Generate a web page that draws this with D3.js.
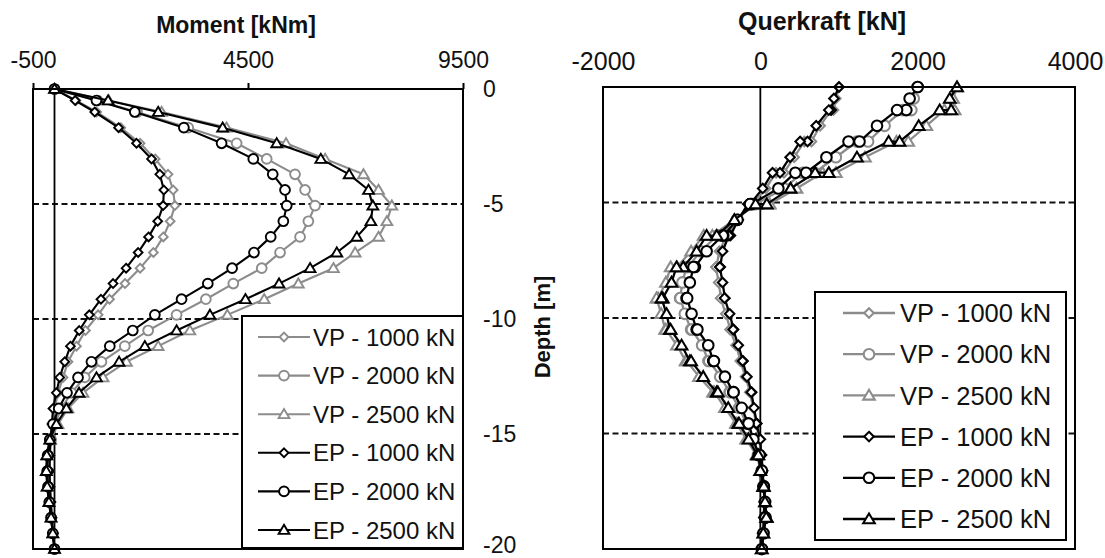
<!DOCTYPE html>
<html>
<head>
<meta charset="utf-8">
<script src="https://cdn.jsdelivr.net/npm/d3@7"></script>
<style>
  body { margin: 0; background: #fff; }
  svg { display: block; font-family: "Liberation Sans", Arial, Helvetica, sans-serif; }
</style>
</head>
<body>
<svg id="chart" width="1105" height="558"></svg>
<script>
// ---- Depth of the pile nodes [m] ----
const nodeDepth = [0, -0.5, -1, -1.68, -2.36, -3.04, -3.71, -4.39, -5.07, -5.75, -6.43, -7.11,
  -7.79, -8.46, -9.14, -9.82, -10.5, -11.18, -11.86, -12.54, -13.21, -13.89, -14.57, -15.25,
  -15.93, -16.61, -17.29, -17.96, -18.64, -19.32, -20];

// ---- Bending moment [kNm] at each node ----
const momentVP1000 = [0, 500, 980, 1540, 1990, 2340, 2640, 2760, 2800, 2690, 2530, 2300, 1990, 1640,
  1280, 1014, 720, 510, 314, 198, 82, 5, -50, -90, -110, -115, -105, -85, -60, -30, 0];
const momentVP2000 = [0, 1000, 1920, 3110, 4236, 4935, 5594, 5827, 6060, 5904, 5711, 5245, 4819, 4158,
  3520, 2839, 2178, 1635, 1092, 703, 393, 160, 5, -80, -140, -160, -150, -120, -80, -40, 0];
const momentVP2500 = [0, 1260, 2490, 4000, 5385, 6293, 7185, 7535, 7846, 7730, 7535, 6992, 6487, 5671,
  4876, 4020, 3149, 2411, 1674, 1130, 664, 314, 82, -90, -170, -190, -170, -130, -80, -40, 0];
const momentEP1000 = [0, 480, 936, 1490, 1907, 2256, 2450, 2543, 2527, 2400, 2187, 1945, 1665, 1362,
  1080, 810, 575, 370, 238, 121, 44, -35, -60, -90, -110, -115, -105, -85, -60, -30, 0];
const momentEP2000 = [0, 975, 1868, 3009, 3886, 4623, 5075, 5361, 5401, 5322, 5028, 4639, 4130, 3565,
  2955, 2334, 1820, 1286, 859, 547, 291, 98, -35, -110, -160, -170, -150, -120, -80, -40, 0];
const momentEP2500 = [0, 1247, 2411, 3910, 5168, 6193, 6852, 7302, 7404, 7357, 7031, 6566, 5944, 5222,
  4440, 3615, 2839, 2101, 1502, 976, 571, 277, 44, -110, -180, -190, -170, -130, -80, -40, 0];

// ---- Shear force [kN]: element end values, two values at every second node ----
const shearDepth = [0, -0.5, -1, -1, -1.68, -2.36, -2.36, -3.04, -3.71, -3.71, -4.39, -5.07, -5.07,
  -5.75, -6.43, -6.43, -7.11, -7.79, -7.79, -8.46, -9.14, -9.14, -9.82, -10.5, -10.5, -11.18,
  -11.86, -11.86, -12.54, -13.21, -13.21, -13.89, -14.57, -14.57, -15.25, -15.93, -15.93, -16.61,
  -17.29, -17.29, -17.96, -18.64, -18.64, -19.32, -20];
const shearVP1000 = [1000, 960, 930, 900, 760, 650, 560, 430, 300, 200, 70, -110, -140, -290, -410, -430,
  -520, -560, -565, -530, -500, -505, -440, -380, -385, -310, -250, -255, -190, -130, -135, -90, -55,
  -60, -10, 5, 10, 25, 40, 45, 50, 45, 50, 30, 20];
const shearVP2000 = [2000, 1950, 1920, 1810, 1580, 1370, 1230, 960, 690, 540, 300, -60, -90, -300, -530,
  -545, -760, -920, -940, -990, -1020, -1015, -960, -880, -870, -740, -660, -650, -510, -390, -385,
  -270, -175, -170, -100, -30, -20, 15, 40, 45, 60, 60, 65, 40, 20];
const shearVP2500 = [2500, 2450, 2470, 2340, 2110, 1880, 1730, 1330, 960, 790, 460, 120, -40, -330, -610,
  -720, -880, -1060, -1140, -1200, -1300, -1320, -1260, -1210, -1200, -1060, -950, -935, -780, -600,
  -585, -450, -310, -300, -180, -50, -35, -5, 35, 40, 60, 80, 75, 40, 18];
const shearEP1000 = [1000, 935, 900, 870, 710, 600, 506, 378, 250, 155, 30, -130, -160, -280, -380, -400,
  -480, -510, -515, -480, -450, -455, -390, -340, -345, -280, -220, -225, -170, -110, -115, -80, -45,
  -50, 0, 10, 15, 30, 40, 45, 50, 45, 50, 30, 20];
const shearEP2000 = [2000, 1898, 1856, 1738, 1483, 1261, 1121, 840, 582, 445, 229, -110, -131, -290, -471,
  -479, -683, -832, -850, -896, -938, -930, -874, -810, -800, -662, -599, -590, -450, -344, -340,
  -237, -153, -150, -89, -20, -10, 20, 40, 45, 60, 60, 65, 40, 20];
const shearEP2500 = [2500, 2408, 2426, 2280, 2013, 1770, 1631, 1228, 870, 697, 385, 82, -60, -330, -555,
  -683, -810, -980, -1065, -1129, -1240, -1256, -1192, -1150, -1140, -1001, -896, -880, -726, -555,
  -540, -408, -280, -270, -150, -40, -25, 0, 38, 45, 60, 82, 75, 38, 18];

// ---- Series labels and axis ticks ----
const seriesNames = ["VP - 1000 kN", "VP - 2000 kN", "VP - 2500 kN", "EP - 1000 kN", "EP - 2000 kN", "EP - 2500 kN"];
const seriesShapes = ["diamond", "circle", "triangle", "diamond", "circle", "triangle"];
const seriesColors = ["#8c8c8c", "#8c8c8c", "#8c8c8c", "#000000", "#000000", "#000000"];
const momentSeries = [momentVP1000, momentVP2000, momentVP2500, momentEP1000, momentEP2000, momentEP2500];
const shearSeries = [shearVP1000, shearVP2000, shearVP2500, shearEP1000, shearEP2000, shearEP2500];
const momentTicks = [-500, 4500, 9500];
const shearTicks = [-2000, 0, 2000, 4000];
const depthTicks = [0, -5, -10, -15, -20];
const guideDepths = [-5, -10, -15];

// plain hyphen-minus for negative numbers
const plainNumber = d => String(d);

const svg = d3.select("#chart");

// Marker outline for a given shape and half-size
function markerPath(shape, s) {
  if (shape === "diamond") return `M0,${-s}L${s},0L0,${s}L${-s},0Z`;
  if (shape === "triangle") return `M0,${-s * 1.05}L${s * 1.1},${s * 0.8}L${-s * 1.1},${s * 0.8}Z`;
  return d3.symbol(d3.symbolCircle, Math.PI * s * s)();
}
const markerSize = shape => (shape === "diamond" ? 4.4 : 4.9);

function drawPanel(cfg) {
  const { x, y, series, depths, ticks, title, titleX, titleY, fontSize, scaleK, legend, tickSize, tickPad } = cfg;
  const g = svg.append("g");
  const [x0, x1] = x.range();
  const [y0, y1] = y.range();

  // dashed depth guides
  g.selectAll("line.guide").data(guideDepths).join("line")
    .attr("x1", x0).attr("x2", x1)
    .attr("y1", d => y(d)).attr("y2", d => y(d))
    .attr("stroke", "#111").attr("stroke-width", 1.8).attr("stroke-dasharray", "6,3.5");

  // zero line
  g.append("line")
    .attr("x1", x(0)).attr("x2", x(0)).attr("y1", y0).attr("y2", y1)
    .attr("stroke", "#000").attr("stroke-width", 1.8);

  // series lines with markers
  const line = d3.line().x(d => x(d[0])).y(d => y(d[1]));
  series.forEach((vals, i) => {
    const pts = vals.map((v, j) => [v, depths[j]]);
    const sg = g.append("g");
    sg.append("path").datum(pts)
      .attr("d", line).attr("fill", "none")
      .attr("stroke", seriesColors[i]).attr("stroke-width", 2.1 * scaleK)
      .attr("stroke-linejoin", "round");
    sg.selectAll("path.m").data(pts).join("path")
      .attr("class", "m")
      .attr("transform", d => `translate(${x(d[0])},${y(d[1])})`)
      .attr("d", markerPath(seriesShapes[i], markerSize(seriesShapes[i]) * scaleK))
      .attr("fill", "#fff").attr("stroke", seriesColors[i]).attr("stroke-width", 1.9 * scaleK);
  });

  // frame
  g.append("rect")
    .attr("x", x0).attr("y", y0).attr("width", x1 - x0).attr("height", y1 - y0)
    .attr("fill", "none").attr("stroke", "#000").attr("stroke-width", 2);

  // top value axis
  const ax = g.append("g").attr("transform", `translate(0,${y0})`)
    .call(d3.axisTop(x).tickValues(ticks).tickFormat(plainNumber)
      .tickSize(tickSize).tickPadding(tickPad));
  ax.select(".domain").remove();
  ax.selectAll(".tick line").attr("stroke", "#000").attr("stroke-width", 2);
  ax.selectAll(".tick text").attr("fill", "#111").style("font-size", fontSize + "px")
    .style("font-family", "'Liberation Sans', Arial, sans-serif");

  // panel title
  g.append("text").attr("x", titleX).attr("y", titleY).attr("text-anchor", "middle")
    .attr("fill", "#111").style("font-size", fontSize + "px").style("font-weight", "bold")
    .text(title);

  // legend
  const lg = g.append("g");
  lg.append("rect")
    .attr("x", legend.x0).attr("y", legend.y0)
    .attr("width", legend.x1 - legend.x0).attr("height", legend.y1 - legend.y0)
    .attr("fill", "#fff").attr("stroke", "#000").attr("stroke-width", 2);
  seriesNames.forEach((name, i) => {
    const cy = legend.rowY0 + i * legend.rowStep;
    lg.append("line").attr("x1", legend.lineX0).attr("x2", legend.lineX1)
      .attr("y1", cy).attr("y2", cy)
      .attr("stroke", seriesColors[i]).attr("stroke-width", 2.1 * scaleK);
    lg.append("path")
      .attr("transform", `translate(${(legend.lineX0 + legend.lineX1) / 2},${cy})`)
      .attr("d", markerPath(seriesShapes[i], markerSize(seriesShapes[i]) * scaleK))
      .attr("fill", "#fff").attr("stroke", seriesColors[i]).attr("stroke-width", 1.9 * scaleK);
    lg.append("text").attr("x", legend.textX).attr("y", cy).attr("dy", "0.36em")
      .attr("fill", "#111").style("font-size", legend.fontSize + "px").text(name);
  });
  return g;
}

// ---- Left panel: bending moment ----
const momentX = d3.scaleLinear().domain([-500, 9500]).range([33, 463]);
const momentY = d3.scaleLinear().domain([0, -20]).range([89, 549]);
drawPanel({
  x: momentX, y: momentY, series: momentSeries, depths: nodeDepth, ticks: momentTicks,
  title: "Moment [kNm]", titleX: 236, titleY: 33, fontSize: 23, scaleK: 1,
  tickSize: 6, tickPad: 15,
  legend: { x0: 242, y0: 316, x1: 463, y1: 548, rowY0: 337, rowStep: 38.6,
            lineX0: 258, lineX1: 310, textX: 313, fontSize: 24 }
});

// depth axis between the panels
const depthAxis = svg.append("g").attr("transform", `translate(463,0)`)
  .call(d3.axisRight(momentY).tickValues(depthTicks).tickFormat(plainNumber).tickSize(0).tickPadding(20));
depthAxis.select(".domain").remove();
depthAxis.selectAll(".tick text").attr("fill", "#111").style("font-size", "23px")
  .style("font-family", "'Liberation Sans', Arial, sans-serif");
// keep the lowest label inside the drawing area
depthAxis.selectAll(".tick text").filter(d => d === -20).attr("dy", "0.16em");
svg.append("text")
  .attr("transform", "translate(542,327) rotate(-90)")
  .attr("text-anchor", "middle").attr("dy", "0.35em")
  .attr("fill", "#111").style("font-size", "22px").style("font-weight", "bold")
  .text("Depth [m]");

// ---- Right panel: shear force ----
const shearX = d3.scaleLinear().domain([-2000, 4000]).range([603, 1075]);
const shearY = d3.scaleLinear().domain([0, -20]).range([87, 549]);
drawPanel({
  x: shearX, y: shearY, series: shearSeries, depths: shearDepth, ticks: shearTicks,
  title: "Querkraft [kN]", titleX: 822, titleY: 30, fontSize: 25, scaleK: 1.08,
  tickSize: 0, tickPad: 17,
  legend: { x0: 815, y0: 292, x1: 1066, y1: 540, rowY0: 313, rowStep: 41.2,
            lineX0: 843, lineX1: 895, textX: 900, fontSize: 25.5 }
});
</script>
</body>
</html>
